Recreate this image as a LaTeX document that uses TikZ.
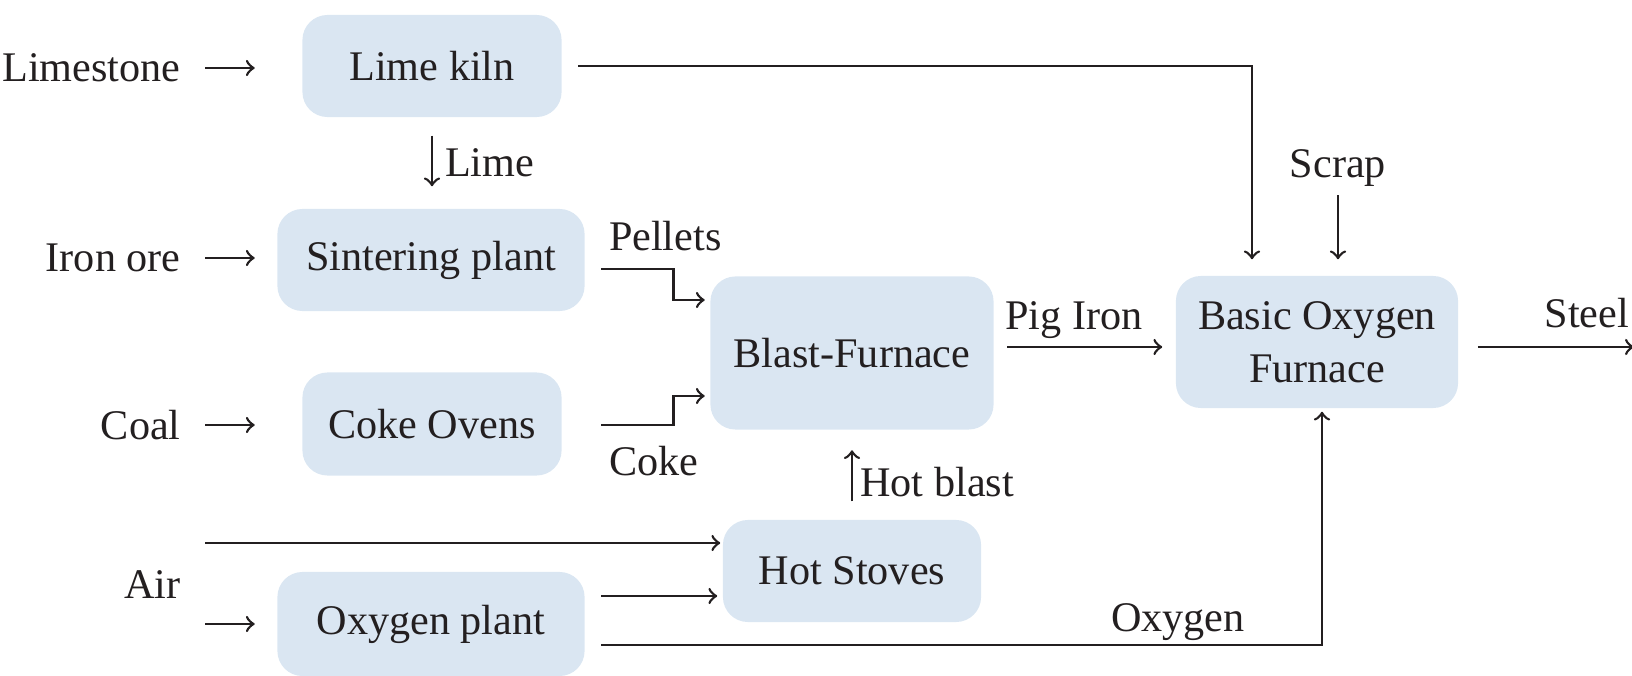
\documentclass[tikz,border=0pt]{standalone}
\usepackage{fontspec}
\setmainfont{Liberation Serif}
\usetikzlibrary{calc, positioning}
\definecolor{unitblue}{RGB}{218,230,242}
\definecolor{ink}{RGB}{35,31,32}

\begin{document}
\begin{tikzpicture}[x=0.01cm, y=-0.01cm, font=\fontsize{12}{15}\selectfont, color=ink]

\tikzstyle{unit} = [rectangle, rounded corners=0.25cm, fill=unitblue, inner sep=0pt,
  align=center, minimum width=#1, minimum height=1.02cm]
\tikzstyle{feed} = [anchor=east]
\tikzstyle{flow} = [->, line width=0.75pt]

\useasboundingbox (0,0) rectangle (1632,676);

\def\gap{16}

\node[unit=2.59cm] (kiln) at (432,66) {Lime kiln};
\node[unit=3.07cm] (sint) at (431,260) {Sintering plant};
\node[unit=2.59cm, minimum height=1.03cm] (coke) at (432,424) {Coke Ovens};
\node[unit=2.83cm, minimum height=1.53cm] (bf) at (852,353) {Blast-Furnace};
\node[unit=2.82cm, minimum height=1.32cm] (bof) at (1317,342) {Basic Oxygen\\Furnace};
\node[unit=2.58cm] (hs) at (852,571) {Hot Stoves};
\node[unit=3.07cm, minimum height=1.04cm] (oxy) at (431,624) {Oxygen plant};

\node[feed] (limestone) at (193,68) {Limestone};
\node[feed] (ore) at (193,258) {Iron ore};
\node[feed] (coal) at (193,425) {Coal};
\node[feed] (air) at (193,585) {Air};
\node (scrap) at (1338,168) {Scrap};

\draw[flow, shorten <=0.12cm, shorten >=0.47cm] (limestone.east) -- (limestone.east -| kiln.west);
\draw[flow, shorten <=0.12cm, shorten >=0.22cm] (ore.east) -- (ore.east -| sint.west);
\draw[flow, shorten <=0.12cm, shorten >=0.47cm] (coal.east) -- (coal.east -| coke.west);

\coordinate (airtop) at ($(air.east)+(12,-42)$);
\coordinate (airlow) at ($(air.east)+(12,39)$);
\draw[flow, shorten >=0.02cm] (airtop) -- (airtop -| hs.west);
\draw[flow, shorten >=0.22cm] (airlow) -- (airlow -| oxy.west);

\draw[flow, shorten <=0.18cm, shorten >=0.22cm] (kiln.south) -- (kiln.south |- sint.north)
  node (limelbl) [pos=0.5, right] {Lime};

\coordinate (pelin) at ($(sint.east)+(\gap,9)$);
\coordinate (cokein) at (pelin |- coke.east);
\draw[flow] (pelin) -| ($(bf.west)+(-36,-53)$) -- ($(bf.west)+(-5,-53)$);
\node (pellets) [above right, inner xsep=2pt, inner ysep=5pt] at (pelin) {Pellets};
\draw[flow] ($(cokein)+(0,1)$) -| ($(bf.west)+(-36,43)$) -- ($(bf.west)+(-5,43)$);
\node (cokelbl) [below right, inner xsep=2pt, inner ysep=6pt] at (cokein) {Coke};

\draw[flow, shorten <=0.18cm, shorten >=0.20cm] (hs.north) -- (bf.south)
  node (blast) [pos=0.42, right, inner sep=2pt] {Hot blast};

\coordinate (pig) at ($(bf.east)+(0,-6)$);
\draw[flow, shorten <=0.13cm, shorten >=0.13cm] (pig) -- (pig -| bof.west)
  node (piglbl) [pos=0.44, above, inner sep=2pt] {Pig Iron};

\coordinate (out) at ($(bof.east)+(175,5)$);
\draw[flow, shorten <=0.19cm] ($(bof.east)+(0,5)$) -- (out)
  node (steel) [pos=1, above left, inner xsep=1pt, inner ysep=5pt] {Steel};

\draw[flow] ($(kiln.east)+(\gap,0)$) -| ($(bof.north)+(-65,-\gap)$);
\draw[flow, shorten <=0.27cm] (scrap.center) -- ($(bof.north)+(21,-\gap)$);

\coordinate (oxhs) at ($(oxy.east)+(\gap,-28)$);
\draw[flow, shorten >=0.05cm] (oxhs) -- (oxhs -| hs.west);
\draw[flow] ($(oxy.east)+(\gap,21)$) -| ($(bof.south)+(5,3)$)
  node (o2lbl) [pos=0.4, above, inner sep=1pt] {Oxygen};

\end{tikzpicture}
\end{document}
